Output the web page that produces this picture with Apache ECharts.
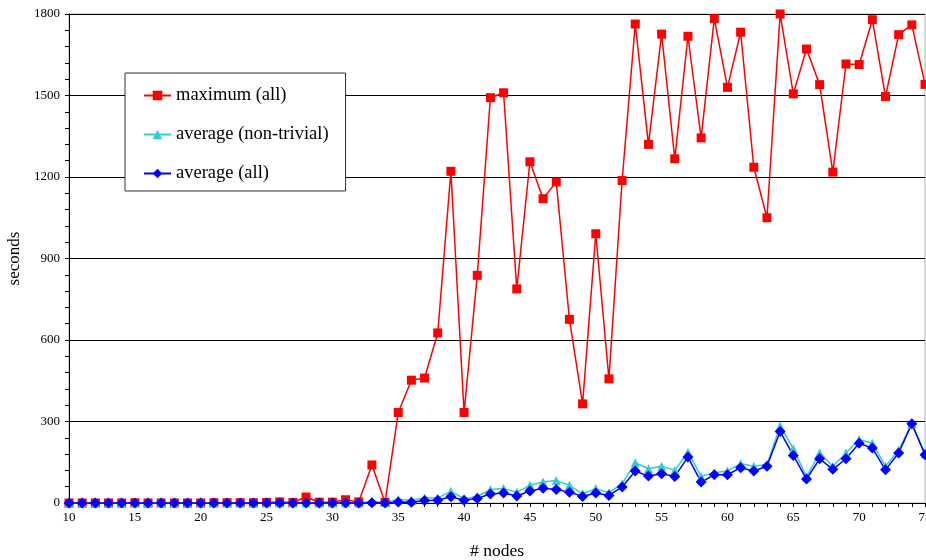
<!DOCTYPE html>
<html>
<head>
<meta charset="utf-8">
<script src="https://cdn.jsdelivr.net/npm/echarts@6/dist/echarts.min.js"></script>
<style>
	html, body { margin: 0; padding: 0; background: #fff; }
	#chart { width: 926px; height: 560px; }
</style>
</head>
<body>
<div id="chart"></div>
<script>
var nodes = [10, 11, 12, 13, 14, 15, 16, 17, 18, 19, 20, 21, 22, 23, 24, 25, 26, 27, 28, 29,
	30, 31, 32, 33, 34, 35, 36, 37, 38, 39, 40, 41, 42, 43, 44, 45, 46, 47, 48, 49,
	50, 51, 52, 53, 54, 55, 56, 57, 58, 59, 60, 61, 62, 63, 64, 65, 66, 67, 68, 69,
	70, 71, 72, 73, 74, 75];

var maxAll = [0, 0, 0, 0, 0, 1, 0, 0, 0, 0, 0, 1, 1, 1, 1, 2, 4, 2, 22, 3,
	3, 12, 4, 140, 2, 333, 452, 460, 626, 1221, 333, 838, 1492, 1510, 788, 1256, 1120, 1182, 676, 365,
	991, 457, 1187, 1763, 1320, 1726, 1267, 1718, 1344, 1783, 1530, 1733, 1236, 1050, 1800, 1506, 1671, 1540, 1218, 1616,
	1614, 1779, 1496, 1724, 1760, 1541];

var avgNonTrivial = [0, 0, 0, 0, 0, 0, 0, 0, 0, 0, 0, 0, 0, 0, 0, 0, 1, 0, 1, 0,
	0, 1, 0, 6, 2, 13, 10, 18, 18, 43, 16, 24, 50, 53, 40, 65, 77, 83, 65, 34,
	53, 38, 71, 148, 126, 135, 120, 187, 98, 111, 118, 145, 135, 142, 283, 200, 96, 185, 135, 184,
	234, 220, 135, 194, 292, 181];

var avgAll = [0, 0, 0, 0, 0, 0, 0, 0, 0, 0, 0, 0, 0, 0, 0, 0, 0, 0, 0, 0,
	0, 0, 0, 1, 0, 4, 3, 9, 10, 23, 10, 17, 33, 37, 26, 44, 54, 50, 40, 24,
	37, 28, 59, 118, 99, 108, 98, 169, 77, 104, 104, 130, 118, 135, 263, 175, 88, 163, 124, 163,
	220, 202, 122, 184, 292, 178];

var seriesNames = ['maximum (all)', 'average (non-trivial)', 'average (all)'];

var serif = 'Liberation Serif';

function pairs(values) {
	return nodes.map(function(n, i) {
		return [n, values[i]];
	});
}

function lineSeries(name, values, color, symbol) {
	return {
		name: name,
		type: 'line',
		data: pairs(values),
		symbol: symbol,
		symbolSize: symbol === 'diamond' ? 11 : 9,
		showSymbol: true,
		clip: false,
		itemStyle: { color: color },
		lineStyle: { color: color, width: 1.5 },
		emphasis: { disabled: true },
		animation: false
	};
}

var chart = echarts.init(document.getElementById('chart'), null, { renderer: 'canvas' });

var option = {
	animation: false,
	grid: {
		left: 69,
		right: 1,
		top: 14,
		bottom: 57,
		containLabel: false,
		outerBoundsMode: 'none',
		show: true,
		borderColor: '#b0b0b0',
		borderWidth: 1
	},
	legend: {
		data: seriesNames,
		orient: 'vertical',
		left: 125,
		top: 73,
		padding: [13, 17, 8, 18],
		itemGap: 20,
		itemWidth: 27,
		itemHeight: 12,
		backgroundColor: '#fff',
		borderColor: '#333',
		borderWidth: 1,
		textStyle: {
			fontFamily: serif,
			fontSize: 18.5,
			color: '#000'
		}
	},
	xAxis: {
		type: 'value',
		min: 10,
		max: 75,
		interval: 5,
		name: '# nodes',
		nameLocation: 'middle',
		nameGap: 39,
		nameTextStyle: { fontFamily: serif, fontSize: 17.5, color: '#000' },
		axisLine: { show: true, onZero: false, lineStyle: { color: '#000', width: 1 } },
		axisTick: { show: true, inside: false, length: 4, lineStyle: { color: '#000' } },
		minorTick: { show: true, splitNumber: 5, length: 4, lineStyle: { color: '#000' } },
		splitLine: { show: false },
		axisLabel: {
			margin: 8,
			fontFamily: serif,
			fontSize: 13,
			color: '#000',
			showMaxLabel: true,
			formatter: function(v) { return String(v); }
		}
	},
	yAxis: {
		type: 'value',
		min: 0,
		max: 1800,
		interval: 300,
		name: 'seconds',
		nameLocation: 'middle',
		nameGap: 35,
		nameTextStyle: { fontFamily: serif, fontSize: 17, color: '#000' },
		axisLine: { show: true, lineStyle: { color: '#000', width: 1 } },
		axisTick: { show: true, inside: false, length: 4, lineStyle: { color: '#000' } },
		minorTick: { show: true, splitNumber: 5, length: 4, lineStyle: { color: '#000' } },
		splitLine: { show: true, lineStyle: { color: '#000', width: 1 } },
		axisLabel: {
			margin: 9,
			fontFamily: serif,
			fontSize: 13,
			color: '#000',
			formatter: function(v) { return String(v); }
		}
	},
	series: [
		lineSeries(seriesNames[0], maxAll, '#ff0000', 'rect'),
		lineSeries(seriesNames[1], avgNonTrivial, '#33cccc', 'triangle'),
		lineSeries(seriesNames[2], avgAll, '#0000ff', 'diamond')
	]
};

chart.setOption(option);
</script>
</body>
</html>
